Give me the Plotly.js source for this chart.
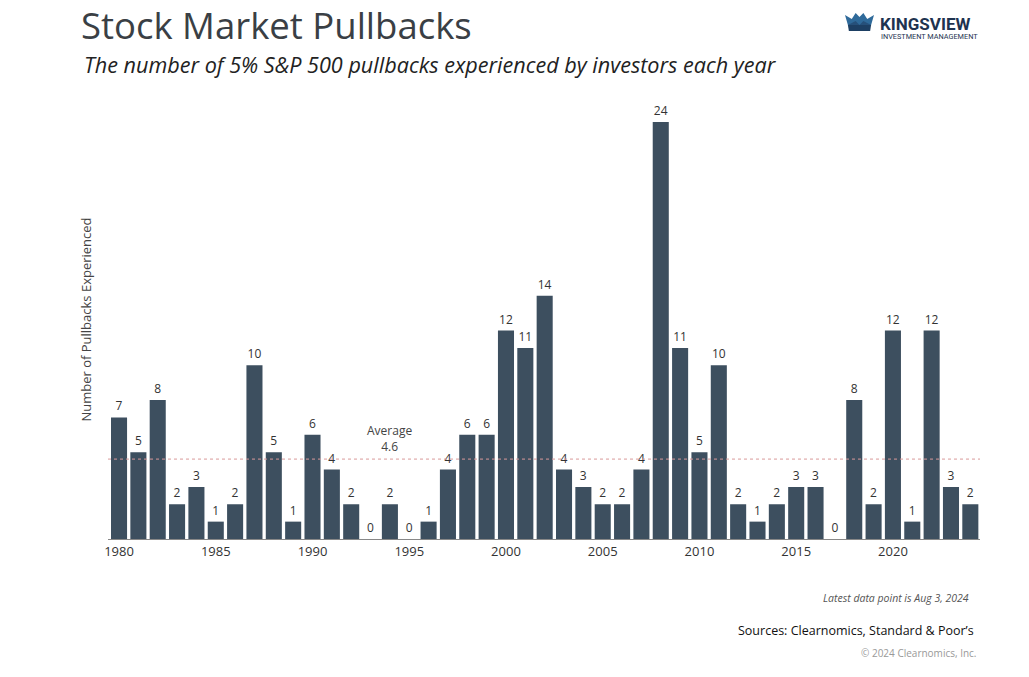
<!DOCTYPE html>
<html><head><meta charset="utf-8">
<script src="https://cdn.plot.ly/plotly-3.0.1.min.js"></script>
<style>html,body{margin:0;padding:0;background:#fff}#chart{width:1029px;height:677px}</style>
</head><body><div id="chart"></div>
<script>
const years = [1980,1981,1982,1983,1984,1985,1986,1987,1988,1989,1990,1991,1992,1993,1994,1995,1996,1997,1998,1999,2000,2001,2002,2003,2004,2005,2006,2007,2008,2009,2010,2011,2012,2013,2014,2015,2016,2017,2018,2019,2020,2021,2022,2023,2024];
const pullbacks = [7,5,8,2,3,1,2,10,5,1,6,4,2,0,2,0,1,4,6,6,12,11,14,4,3,2,2,4,24,11,5,10,2,1,2,3,3,0,8,2,12,1,12,3,2];
const average = 4.6;
const tickYears = [1980,1985,1990,1995,2000,2005,2010,2015,2020];

const W=1029,H=677,L=108,R=980,T=100,B=539;
const px = x => (x-L)/(R-L);
const py = y => (B-y)/(B-T);

const crown = '<svg xmlns="http://www.w3.org/2000/svg" viewBox="0 0 30 20" preserveAspectRatio="none">'+
 '<path d="M0 3 L7 7 L11 1 L15 5 L19 1 L23 7 L30 3 L27 13 L3 13 Z" fill="#2f6a9a"/>'+
 '<path d="M3 13 L27 13 L26 19 L4 19 Z" fill="#1d3f63"/>'+
 '<path d="M3 13 L11 9 L15 13 L19 9 L27 13 Z" fill="#26507a"/></svg>';

const trace = {
  type:'bar', x:years, y:pullbacks,
  marker:{color:'#3d4f5f'},
  text:pullbacks.map(String), textposition:'outside',
  textfont:{family:'Open Sans, sans-serif', size:12, color:'#333'},
  cliponaxis:false, hoverinfo:'x+y'
};

const layout = {
  width:W, height:H,
  margin:{l:L, r:W-R, t:T, b:H-B},
  paper_bgcolor:'#fff', plot_bgcolor:'#fff',
  showlegend:false, bargap:0.17,
  font:{family:'Open Sans, sans-serif'},
  title:{text:'Stock Market Pullbacks', font:{family:'Open Sans, sans-serif', size:36.5, color:'#3a3f45'},
    xref:'container', x:81/W, xanchor:'left', yref:'container', y:1-26/H, yanchor:'middle'},
  xaxis:{range:[1979.43,2024.5], tickvals:tickYears, ticktext:tickYears.map(String),
    showgrid:false, zeroline:false, showline:true, linecolor:'#888', linewidth:1,
    ticks:'', tickfont:{size:13, color:'#333'}, fixedrange:true},
  yaxis:{range:[0,(B-T)/17.375], showticklabels:false, showgrid:false, zeroline:false,
    showline:false, ticks:'', fixedrange:true,
    title:{text:'Number of Pullbacks Experienced', font:{size:13, color:'#444'}, standoff:12}},
  shapes:[{type:'line', xref:'paper', x0:0, x1:1, yref:'y', y0:average, y1:average,
    line:{color:'#d99a9a', width:1, dash:'dot'}}],
  images:[{source:'data:image/svg+xml;utf8,'+encodeURIComponent(crown), xref:'paper', yref:'paper',
    x:px(845), y:py(12), sizex:29/(R-L), sizey:20/(B-T), xanchor:'left', yanchor:'top', sizing:'stretch', layer:'above'}],
  annotations:[
    {text:'<i>The number of 5% S&P 500 pullbacks experienced by investors each year</i>', xref:'paper', yref:'paper',
      x:px(82), y:py(64), xanchor:'left', yanchor:'middle', showarrow:false,
      font:{size:21.6, color:'#222'}},
    {text:'Average<br>4.6', x:1994, y:average, yanchor:'bottom', yshift:2, showarrow:false,
      font:{size:12, color:'#444'}},
    {text:'<b>KINGSVIEW</b>', xref:'paper', yref:'paper', x:px(878), y:py(24), xanchor:'left', yanchor:'middle',
      showarrow:false, font:{family:'Roboto, sans-serif', size:17, color:'#1e3350'}},
    {text:'INVESTMENT MANAGEMENT', xref:'paper', yref:'paper', x:px(879), y:py(36.5), xanchor:'left', yanchor:'middle',
      showarrow:false, font:{family:'Roboto, sans-serif', size:7.3, color:'#1e3350'}},
    {text:'<i>Latest data point is Aug 3, 2024</i>', xref:'paper', yref:'paper', x:px(971), y:py(598),
      xanchor:'right', yanchor:'middle', showarrow:false, font:{size:10.5, color:'#555'}},
    {text:'Sources: Clearnomics, Standard & Poor\u2019s', xref:'paper', yref:'paper', x:px(976), y:py(630),
      xanchor:'right', yanchor:'middle', showarrow:false, font:{size:12.5, color:'#111'}},
    {text:'\u00a9 2024 Clearnomics, Inc.', xref:'paper', yref:'paper', x:px(978), y:py(653),
      xanchor:'right', yanchor:'middle', showarrow:false, font:{size:10, color:'#999'}}
  ]
};
Plotly.newPlot('chart',[trace],layout,{displayModeBar:false, staticPlot:true});
</script></body></html>
